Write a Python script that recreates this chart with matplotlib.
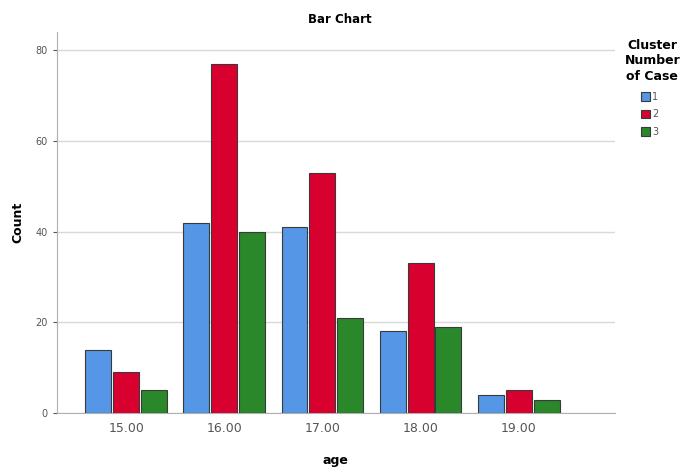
import numpy as np
import matplotlib.pyplot as plt

# data
ages = ['15.00', '16.00', '17.00', '18.00', '19.00']
cluster1 = [14, 42, 41, 18, 4]
cluster2 = [9, 77, 53, 33, 5]
cluster3 = [5, 40, 21, 19, 3]
clusters = ['1', '2', '3']
colors = ['#5596E6', '#D7002F', '#2A872A']

fig = plt.figure(figsize=(6.83, 4.69), dpi=100)
ax = fig.add_axes([0.083, 0.119, 0.817, 0.813])

x = np.arange(len(ages))
w = 0.265
step = 0.285
for i, (vals, col, lab) in enumerate(zip([cluster1, cluster2, cluster3], colors, clusters)):
    ax.bar(x + (i - 1) * step, vals, width=w, color=col, edgecolor='#3a3a3a',
           linewidth=0.8, label=lab, zorder=3)

ax.set_xlim(-0.71, 4.98)
ax.set_ylim(0, 84)
ax.set_yticks([0, 20, 40, 60, 80])
ax.set_xticks(x)
ax.set_xticklabels(ages)
ax.yaxis.grid(True, color='#d9d9d9', linewidth=1, zorder=0)
for s in ['top', 'right']:
    ax.spines[s].set_visible(False)
for s in ['left', 'bottom']:
    ax.spines[s].set_color('#b0b0b0')
ax.tick_params(axis='y', labelsize=7, colors='#555555', length=3, labelcolor='#555555')
ax.tick_params(axis='x', labelsize=9, length=0, pad=6, labelcolor='#555555')

ax.set_ylabel('Count', fontsize=9, fontweight='bold', labelpad=8)
ax.set_xlabel('age', fontsize=9, fontweight='bold', labelpad=14)
fig.text(0.497, 0.958, 'Bar Chart', ha='center', va='center', fontsize=8.5, fontweight='bold')

# legend title drawn as its own text so it can be centred
fig.text(0.955, 0.87, 'Cluster\nNumber\nof Case', ha='center', va='center', fontsize=9,
         fontweight='bold', linespacing=1.25, multialignment='center')
leg = ax.legend(loc='upper left', bbox_to_anchor=(1.035, 0.86),
                frameon=False, fontsize=7, handlelength=0.95, handleheight=1.0,
                handletextpad=0.2, labelspacing=0.75, borderaxespad=0.3)
for t in leg.get_texts():
    t.set_color('#555555')

fig.savefig('out.png', dpi=100)
